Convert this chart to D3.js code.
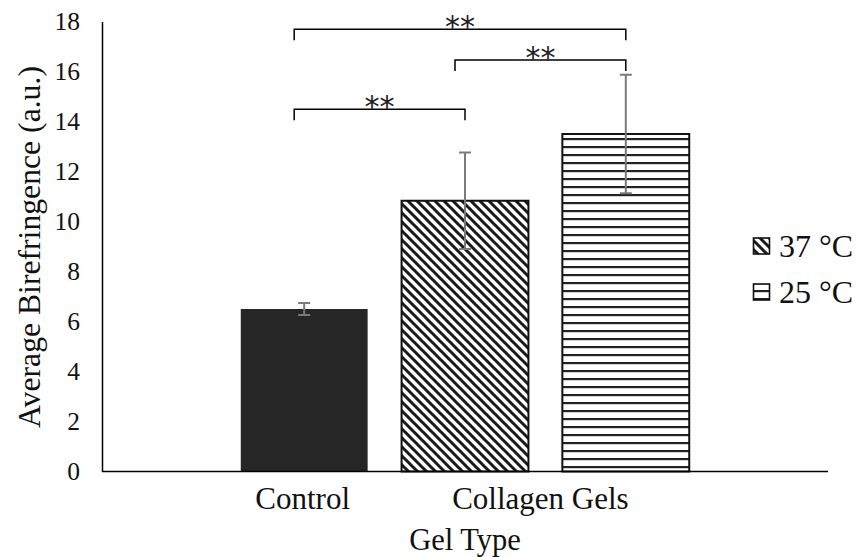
<!DOCTYPE html>
<html>
<head>
<meta charset="utf-8">
<script src="https://cdn.jsdelivr.net/npm/d3@7"></script>
<style>
  html, body { margin: 0; padding: 0; background: #fff; }
  svg { display: block; }
</style>
</head>
<body>
<svg id="chart" width="858" height="557"></svg>
<script>
// ---- data ----
const seriesKeys = ["Control", "37 °C", "25 °C"];
const means = [6.5, 10.83, 13.5];
const errors = [0.24, 1.93, 2.37];
const categories = ["Control", "Collagen Gels"];
const categoryBars = [[0], [1, 2]];
const yTicks = [0, 2, 4, 6, 8, 10, 12, 14, 16, 18];
const legendKeys = ["37 °C", "25 °C"];
const sigFrom = [0, 1, 0];
const sigTo = [2, 2, 1];
const sigLevels = [17.69, 16.46, 14.49];
const sigLabels = ["**", "**", "**"];
const yTitle = "Average Birefringence (a.u.)";
const xTitle = "Gel Type";

// ---- layout ----
const svg = d3.select("#chart");
const plotLeft = 102, plotRight = 828, plotTop = 21.5, plotBottom = 471.5;
const serif = "'Liberation Serif', 'Times New Roman', serif";

const x = d3.scaleBand().domain(seriesKeys).range([plotLeft, plotRight])
  .paddingInner(0.211).paddingOuter(0.863);
const y = d3.scaleLinear().domain([0, 18]).range([plotBottom, plotTop]);

// patterns
const defs = svg.append("defs");
const pd = defs.append("pattern").attr("id", "diag")
  .attr("patternUnits", "userSpaceOnUse").attr("width", 9).attr("height", 9);
pd.append("rect").attr("width", 9).attr("height", 9).attr("fill", "#fff");
pd.append("path").attr("d", "M0,0L9,9M-2,7L2,11M7,-2L11,2")
  .attr("stroke", "#1a1a1a").attr("stroke-width", 3);
const ph = defs.append("pattern").attr("id", "horiz")
  .attr("patternUnits", "userSpaceOnUse").attr("width", 10).attr("height", 8)
  .attr("y", 2);
ph.append("rect").attr("width", 10).attr("height", 8).attr("fill", "#fff");
ph.append("rect").attr("y", 0).attr("width", 10).attr("height", 2.2).attr("fill", "#222");

const fills = { "Control": "#262626", "37 °C": "url(#diag)", "25 °C": "url(#horiz)" };
const strokes = { "Control": "none", "37 °C": "#111", "25 °C": "#111" };

// bars
svg.append("g").selectAll("rect").data(seriesKeys).join("rect")
  .attr("x", d => x(d))
  .attr("y", (d, i) => y(means[i]))
  .attr("width", x.bandwidth())
  .attr("height", (d, i) => y(0) - y(means[i]))
  .attr("fill", d => fills[d])
  .attr("stroke", d => strokes[d])
  .attr("stroke-width", 2);

// error bars
const eb = svg.append("g").attr("stroke", "#7a7a7a").attr("stroke-width", 2);
seriesKeys.forEach((k, i) => {
  const cx = x(k) + x.bandwidth() / 2;
  const y1 = y(means[i] + errors[i]), y2 = y(means[i] - errors[i]);
  eb.append("line").attr("x1", cx).attr("x2", cx).attr("y1", y1).attr("y2", y2);
  eb.append("line").attr("x1", cx - 6).attr("x2", cx + 6).attr("y1", y1).attr("y2", y1);
  eb.append("line").attr("x1", cx - 6).attr("x2", cx + 6).attr("y1", y2).attr("y2", y2);
});

// axes
const yAxis = d3.axisLeft(y).tickValues(yTicks).tickSize(0).tickPadding(22).tickFormat(d3.format("d"));
const gy = svg.append("g").attr("transform", `translate(${plotLeft},0)`).call(yAxis);
gy.select(".domain").attr("stroke", "#000").attr("stroke-width", 1.5);
gy.selectAll("text").attr("font-family", serif).attr("font-size", 25.5).attr("fill", "#111");

svg.append("line").attr("x1", plotLeft).attr("x2", plotRight).attr("y1", plotBottom).attr("y2", plotBottom)
  .attr("stroke", "#000").attr("stroke-width", 1.6);

// category labels
svg.append("g").selectAll("text").data(categories).join("text")
  .attr("x", (d, i) => {
    const b = categoryBars[i];
    const a = x(seriesKeys[b[0]]), z = x(seriesKeys[b[b.length - 1]]) + x.bandwidth();
    return (a + z) / 2 - (b.length > 1 ? 5 : 1.5);
  })
  .attr("y", 509)
  .attr("text-anchor", "middle")
  .attr("font-family", serif).attr("font-size", 31).attr("fill", "#111")
  .text(d => d);

// axis titles
svg.append("text").attr("x", (plotLeft + plotRight) / 2).attr("y", 550)
  .attr("text-anchor", "middle").attr("font-family", serif).attr("font-size", 30.5)
  .attr("fill", "#111").text(xTitle);
svg.append("text").attr("transform", "translate(40,247) rotate(-90)")
  .attr("text-anchor", "middle").attr("font-family", serif).attr("font-size", 31.7)
  .attr("fill", "#111").text(yTitle);

// significance brackets
const sg = svg.append("g");
sigLabels.forEach((lab, i) => {
  const x1 = x(seriesKeys[sigFrom[i]]) + x.bandwidth() / 2 - 10;
  const x2 = x(seriesKeys[sigTo[i]]) + x.bandwidth() / 2;
  const yy = y(sigLevels[i]);
  sg.append("path").attr("d", `M${x1},${yy + 11}V${yy}H${x2}V${yy + 11}`)
    .attr("fill", "none").attr("stroke", "#000").attr("stroke-width", 1.5);
  sg.append("text").attr("x", (x1 + x2) / 2).attr("y", yy + 8)
    .attr("text-anchor", "middle").attr("font-family", "'DejaVu Sans', sans-serif")
    .attr("font-size", 30).attr("fill", "#222").attr("letter-spacing", 0).text(lab);
});

// legend
const lg = svg.append("g");
legendKeys.forEach((k, i) => {
  const ly = 238 + i * 46;
  lg.append("rect").attr("x", 753.5).attr("y", ly).attr("width", 16).attr("height", 16)
    .attr("fill", fills[k]).attr("stroke", "#111").attr("stroke-width", 1.6);
  lg.append("text").attr("x", 779).attr("y", ly + 18.7)
    .attr("font-family", serif).attr("font-size", 32).attr("fill", "#111").text(k);
});
</script>
</body>
</html>
